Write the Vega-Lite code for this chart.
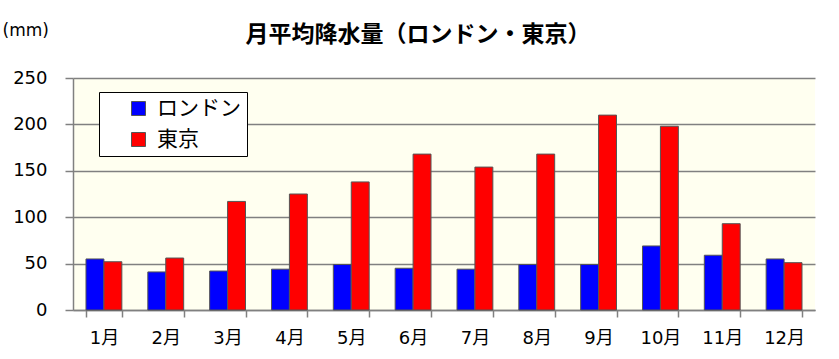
{
  "$schema": "https://vega.github.io/schema/vega-lite/v6.json",
  "autosize": "none",
  "width": 742,
  "height": 232,
  "padding": {"left": 73, "top": 78, "right": 24, "bottom": 49},
  "background": "white",
  "config": {
    "font": "DejaVu Sans, Noto Sans CJK JP",
    "view": {"fill": "#FFFFF0", "stroke": null},
    "axis": {"labelFont": "DejaVu Sans, Noto Sans CJK JP", "labelColor": "black", "domainColor": "#808080", "tickColor": "#808080", "gridColor": "#808080"}
  },
  "title": {
    "text": "月平均降水量（ロンドン・東京）",
    "font": "Noto Sans CJK JP",
    "fontSize": 23,
    "fontWeight": "bold",
    "color": "black",
    "anchor": "middle",
    "dx": -26,
    "offset": -26
  },
  "data": {
    "values": [
      {"month": "1月", "city": "ロンドン", "value": 55},
      {"month": "1月", "city": "東京", "value": 52},
      {"month": "2月", "city": "ロンドン", "value": 41},
      {"month": "2月", "city": "東京", "value": 56},
      {"month": "3月", "city": "ロンドン", "value": 42},
      {"month": "3月", "city": "東京", "value": 117},
      {"month": "4月", "city": "ロンドン", "value": 44},
      {"month": "4月", "city": "東京", "value": 125},
      {"month": "5月", "city": "ロンドン", "value": 49},
      {"month": "5月", "city": "東京", "value": 138},
      {"month": "6月", "city": "ロンドン", "value": 45},
      {"month": "6月", "city": "東京", "value": 168},
      {"month": "7月", "city": "ロンドン", "value": 44},
      {"month": "7月", "city": "東京", "value": 154},
      {"month": "8月", "city": "ロンドン", "value": 49},
      {"month": "8月", "city": "東京", "value": 168},
      {"month": "9月", "city": "ロンドン", "value": 49},
      {"month": "9月", "city": "東京", "value": 210},
      {"month": "10月", "city": "ロンドン", "value": 69},
      {"month": "10月", "city": "東京", "value": 198},
      {"month": "11月", "city": "ロンドン", "value": 59},
      {"month": "11月", "city": "東京", "value": 93},
      {"month": "12月", "city": "ロンドン", "value": 55},
      {"month": "12月", "city": "東京", "value": 51}
    ]
  },
  "mark": {"type": "bar", "stroke": "#555555", "strokeWidth": 1},
  "encoding": {
    "x": {
      "field": "month",
      "type": "nominal",
      "sort": ["1月","2月","3月","4月","5月","6月","7月","8月","9月","10月","11月","12月"],
      "scale": {"paddingInner": 0.42, "paddingOuter": 0.21},
      "axis": {
        "title": null,
        "labelAngle": 0,
        "labelFontSize": 18,
        "labelPadding": 12,
        "tickBand": "extent",
        "tickSize": 7,
        "tickWidth": 1.5,
        "domainWidth": 1.5,
        "grid": false
      }
    },
    "xOffset": {"field": "city", "type": "nominal", "sort": ["ロンドン", "東京"]},
    "y": {
      "field": "value",
      "type": "quantitative",
      "scale": {"domain": [0, 250], "nice": false},
      "axis": {
        "values": [0, 50, 100, 150, 200, 250],
        "title": "(mm)",
        "titleAngle": 0,
        "titleAlign": "left",
        "titleBaseline": "alphabetic",
        "titleX": -71,
        "titleY": -43,
        "titleFont": "DejaVu Sans",
        "titleFontSize": 17,
        "titleFontWeight": "normal",
        "titleColor": "black",
        "labelFontSize": 18,
        "labelPadding": 18,
        "tickSize": 8,
        "tickWidth": 1.5,
        "domainWidth": 1.5,
        "gridWidth": 1.5
      }
    },
    "color": {
      "field": "city",
      "type": "nominal",
      "sort": ["ロンドン", "東京"],
      "scale": {"domain": ["ロンドン", "東京"], "range": ["#0000FF", "#FF0000"]},
      "legend": {
        "title": null,
        "orient": "none",
        "legendX": 26,
        "legendY": 14,
        "fillColor": "white",
        "strokeColor": "black",
        "padding": 6,
        "symbolOffset": 23,
        "symbolType": "square",
        "symbolSize": 196,
        "symbolStrokeColor": "#555555",
        "symbolStrokeWidth": 1,
        "labelFont": "Noto Sans CJK JP",
        "labelFontSize": 21,
        "labelColor": "black",
        "labelExpr": "datum.label + '\u3000\u2002'",
        "rowPadding": 9,
        "labelOffset": 8
      }
    }
  }
}
